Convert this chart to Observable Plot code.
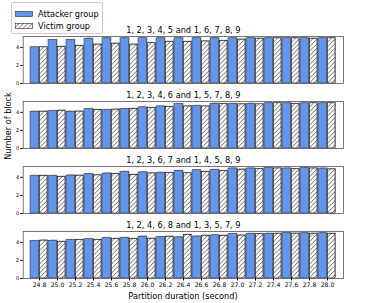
<!DOCTYPE html>
<html><head><meta charset="utf-8">
<script src="https://cdn.jsdelivr.net/npm/d3@7"></script>
<script src="https://cdn.jsdelivr.net/npm/@observablehq/plot@0.6"></script>
<style>
body{margin:0;background:#fff;font-family:"DejaVu Sans",sans-serif;}
#wrap{position:relative;width:384px;height:303px;overflow:hidden;}
#legend{position:absolute;left:11px;top:2px;width:90px;height:30px;border:1px solid #ccc;border-radius:2px;background:rgba(255,255,255,0.85);font-size:8.2px;color:#000;}
#legend .sw{position:absolute;left:3px;width:18px;height:6px;}
#legend .lb{position:absolute;left:26px;white-space:nowrap;line-height:10px;}
#ylab{position:absolute;left:8px;top:126px;transform:translate(-50%,-50%) rotate(-90deg);font-size:8.2px;white-space:nowrap;color:#000;}
#xlab{position:absolute;left:183px;top:296px;transform:translate(-50%,-50%);font-size:8.2px;white-space:nowrap;color:#000;}
</style></head><body>
<div id="wrap">
  <div id="chart"></div>
  <div id="legend">
    <svg class="sw" style="top:8px" width="18" height="6"><rect x="0.3" y="0.3" width="17.4" height="5.4" fill="#6495ed" stroke="#222" stroke-width="0.5"/></svg>
    <div class="lb" style="top:6px">Attacker group</div>
    <svg class="sw" style="top:20px" width="18" height="6"><defs><pattern id="hatchL" patternUnits="userSpaceOnUse" width="4.5" height="4.5"><rect width="4.5" height="4.5" fill="#fff"/><path d="M0,4.5L4.5,0M-1,1L1,-1M3.5,5.5L5.5,3.5" stroke="#000" stroke-width="0.6"/></pattern></defs><rect x="0.3" y="0.3" width="17.4" height="5.4" fill="url(#hatchL)" stroke="#000" stroke-width="0.5"/></svg>
    <div class="lb" style="top:18px">Victim group</div>
  </div>
  <div id="ylab">Number of block</div>
  <div id="xlab">Partition duration (second)</div>
</div>
<script>
const durations = ["24.8","25.0","25.2","25.4","25.6","25.8","26.0","26.2","26.4","26.6","26.8","27.0","27.2","27.4","27.6","27.8","28.0"];
const panelTitles = ["1, 2, 3, 4, 5 and 1, 6, 7, 8, 9","1, 2, 3, 4, 6 and 1, 5, 7, 8, 9","1, 2, 3, 6, 7 and 1, 4, 5, 8, 9","1, 2, 4, 6, 8 and 1, 3, 5, 7, 9"];
const attackerP1 = [4.0,4.8,4.8,4.95,5.0,5.0,5.0,5.0,5.0,5.0,5.0,5.0,5.0,5.0,5.0,5.0,5.0];
const victimP1   = [4.0,4.05,4.15,4.3,4.4,4.3,4.45,4.6,4.6,4.65,4.7,4.85,4.95,5.0,5.0,4.95,5.0];
const attackerP2 = [4.07,4.13,4.07,4.35,4.25,4.35,4.55,4.65,4.9,4.7,4.95,4.93,4.93,5.0,5.0,5.0,5.0];
const victimP2   = [4.07,4.18,4.08,4.25,4.3,4.37,4.47,4.58,4.65,4.65,4.9,4.88,4.88,5.0,4.92,5.0,5.0];
const attackerP3 = [4.15,4.15,4.2,4.35,4.42,4.6,4.55,4.5,4.7,4.78,4.82,4.98,4.98,5.02,4.98,5.02,4.97];
const victimP3   = [4.15,4.05,4.18,4.22,4.38,4.27,4.43,4.46,4.45,4.6,4.68,4.85,4.9,4.98,4.9,4.98,4.88];
const attackerP4 = [4.13,4.17,4.25,4.35,4.47,4.48,4.63,4.57,4.55,4.64,4.77,4.9,4.93,4.95,5.02,5.0,5.0];
const victimP4   = [4.19,4.05,4.24,4.26,4.37,4.37,4.4,4.62,4.82,4.73,4.73,4.75,4.9,4.95,4.96,4.95,4.94];
const yTicks = [0,2,4];

const attackers = [attackerP1,attackerP2,attackerP3,attackerP4];
const victims = [victimP1,victimP2,victimP3,victimP4];
const rows = [];
panelTitles.forEach((t,p)=>durations.forEach((d,i)=>rows.push({panel:t,duration:d,attacker:attackers[p][i],victim:victims[p][i]})));

const W = 384, H = 303, ML = 22.7, MR = 41, MT = 35.3, MB = 23.7;
const half = (W - ML - MR) / durations.length / 2;

const plot = Plot.plot({
  width: W, height: H,
  marginLeft: ML, marginRight: MR, marginTop: MT, marginBottom: MB,
  style: {fontFamily: "DejaVu Sans, sans-serif", background: "transparent", color: "#000"},
  x: {type: "band", domain: durations, padding: 0},
  y: {domain: [0, 5.2]},
  fy: {domain: panelTitles, paddingInner: 0.28, paddingOuter: 0, axis: null},
  marks: [
    Plot.barY(rows, {fy: "panel", x: "duration", y: "attacker", fill: "#b0b0b0", insetLeft: 0.5, insetRight: half, dx: 1, dy: -0.8}),
    Plot.barY(rows, {fy: "panel", x: "duration", y: "victim", fill: "#b0b0b0", insetLeft: half, insetRight: 1, dx: 1, dy: -0.8}),
    Plot.barY(rows, {fy: "panel", x: "duration", y: "attacker", fill: "#6495ed", stroke: "#222", strokeWidth: 0.5, insetLeft: 0, insetRight: half}),
    Plot.barY(rows, {fy: "panel", x: "duration", y: "victim", fill: "url(#hatch)", stroke: "#000", strokeWidth: 0.6, insetLeft: half, insetRight: 1}),
    Plot.frame({stroke: "#555", strokeWidth: 0.8}),
    Plot.text(panelTitles, {fy: d => d, text: d => d, frameAnchor: "top", lineAnchor: "middle", dy: -6, fontSize: 8.2, fill: "#000"}),
    Plot.axisY({ticks: yTicks, tickFormat: d => String(d), tickSize: 2.5, tickPadding: 1.5, fontSize: 5, label: null}),
    Plot.axisX({tickSize: 2.5, tickPadding: 1.5, fontSize: 6.1, label: null})
  ]
});

const defs = d3.select(plot).insert("defs", ":first-child");
const pat = defs.append("pattern").attr("id","hatch").attr("patternUnits","userSpaceOnUse").attr("width",4.5).attr("height",4.5);
pat.append("rect").attr("width",4.5).attr("height",4.5).attr("fill","#fff");
pat.append("path").attr("d","M0,4.5L4.5,0M-1,1L1,-1M3.5,5.5L5.5,3.5").attr("stroke","#000").attr("stroke-width",0.6);

document.getElementById("chart").appendChild(plot);
</script>
</body></html>
